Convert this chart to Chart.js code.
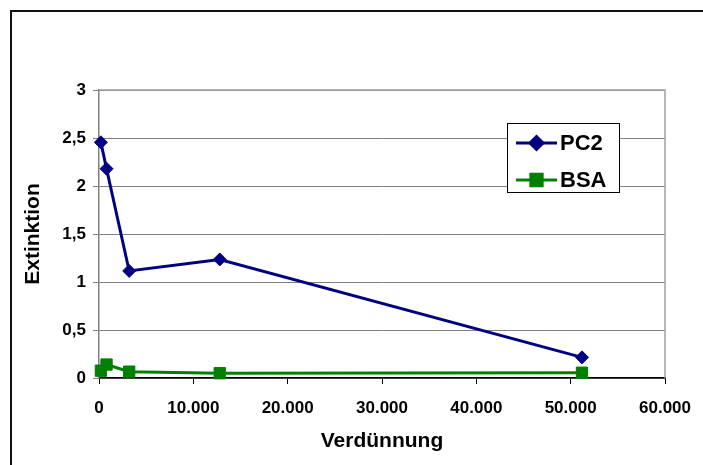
<!DOCTYPE html>
<html>
<head>
<meta charset="utf-8">
<script src="https://cdn.jsdelivr.net/npm/chart.js@4/dist/chart.umd.min.js"></script>
<style>
  html, body { margin: 0; padding: 0; background: #fff; }
  #wrap { width: 703px; height: 465px; position: relative; }
</style>
</head>
<body>
<div id="wrap"><canvas id="chart" width="703" height="465"></canvas></div>
<script>
// --- data ---
const dilution = [200, 800, 3200, 12800, 51200];
const pc2 = [2.455, 2.18, 1.115, 1.235, 0.215];
const bsa = [0.076, 0.14, 0.066, 0.05, 0.055];
const seriesNames = ['PC2', 'BSA'];
const xTicks = [0, 10000, 20000, 30000, 40000, 50000, 60000];
const yTicks = [0, 0.5, 1, 1.5, 2, 2.5, 3];

const FONT = '"Liberation Sans", Arial, sans-serif';
const navy = '#000080';
const green = '#008000';

function toPoints(xs, ys) {
  return xs.map((x, i) => ({ x: x, y: ys[i] }));
}

// german number format: 10.000 / 2,5
function fmtX(v) {
  return String(v).replace(/\B(?=(\d{3})+(?!\d))/g, '.');
}
function fmtY(v) {
  return String(v).replace('.', ',');
}

// frame, outer border and legend box
const decor = {
  id: 'decor',
  beforeDatasetsDraw(chart) {
    const { ctx, chartArea: a } = chart;
    ctx.save();
    ctx.strokeStyle = '#a0a0a0';
    ctx.lineWidth = 1.5;
    ctx.beginPath();
    ctx.moveTo(a.left, a.top);
    ctx.lineTo(a.right, a.top);
    ctx.lineTo(a.right, a.bottom);
    ctx.stroke();
    ctx.restore();
  },
  afterDraw(chart) {
    const { ctx } = chart;
    ctx.save();
    // outer chart border (runs off the picture right and bottom)
    ctx.strokeStyle = '#111';
    ctx.lineWidth = 2;
    ctx.beginPath();
    ctx.moveTo(11, 465);
    ctx.lineTo(11, 11);
    ctx.lineTo(703, 11);
    ctx.stroke();

    // legend
    const bx = 507.5, by = 123.5, bw = 112, bh = 69;
    ctx.fillStyle = '#fff';
    ctx.fillRect(bx, by, bw, bh);
    ctx.strokeStyle = '#000';
    ctx.lineWidth = 1;
    ctx.strokeRect(bx, by, bw, bh);

    const rows = [143, 180];
    chart.data.datasets.forEach((ds, i) => {
      const y = rows[i];
      ctx.strokeStyle = ds.borderColor;
      ctx.lineWidth = 3;
      ctx.beginPath();
      ctx.moveTo(516, y);
      ctx.lineTo(557, y);
      ctx.stroke();
      Chart.helpers.drawPoint(ctx, {
        pointStyle: ds.pointStyle,
        radius: ds.pointRadius,
        borderWidth: 1
      }, 536.5, y);
      ctx.fillStyle = ds.borderColor;
      ctx.fill();
      ctx.fillStyle = '#000';
      ctx.font = 'bold 22px ' + FONT;
      ctx.textBaseline = 'middle';
      ctx.textAlign = 'left';
      ctx.fillText(ds.label, 560, y + 1);
    });
    ctx.restore();
  }
};

new Chart(document.getElementById('chart'), {
  type: 'line',
  data: {
    datasets: [
      {
        label: seriesNames[0],
        data: toPoints(dilution, pc2),
        borderColor: navy,
        backgroundColor: navy,
        borderWidth: 3,
        pointStyle: 'rectRot',
        pointRadius: 6.5,
        pointBorderWidth: 1,
        tension: 0,
        clip: false
      },
      {
        label: seriesNames[1],
        data: toPoints(dilution, bsa),
        borderColor: green,
        backgroundColor: green,
        borderWidth: 3,
        pointStyle: 'rect',
        pointRadius: 8,
        pointBorderWidth: 1,
        tension: 0,
        clip: false
      }
    ]
  },
  options: {
    responsive: false,
    animation: false,
    devicePixelRatio: 1,
    layout: { padding: { left: 0, top: 90, right: 38, bottom: 0 } },
    plugins: {
      legend: { display: false },
      tooltip: { enabled: false }
    },
    scales: {
      x: {
        type: 'linear',
        min: xTicks[0],
        max: xTicks[xTicks.length - 1],
        afterBuildTicks(scale) {
          scale.ticks = xTicks.map(v => ({ value: v }));
        },
        afterFit(scale) {
          scale.height = 87;
          scale.paddingLeft = 0;
          scale.paddingRight = 0;
        },
        grid: {
          drawOnChartArea: false,
          drawTicks: true,
          tickLength: 6,
          tickColor: '#000',
          tickWidth: 1
        },
        border: { color: '#000', width: 1.5 },
        ticks: {
          callback: v => fmtX(v),
          color: '#000',
          padding: 14,
          maxRotation: 0,
          font: { family: FONT, size: 17, weight: 'bold' }
        },
        title: {
          display: true,
          text: 'Verdünnung',
          color: '#000',
          padding: { top: 0, bottom: 11 },
          font: { family: FONT, size: 21, weight: 'bold' }
        }
      },
      y: {
        min: yTicks[0],
        max: yTicks[yTicks.length - 1],
        afterBuildTicks(scale) {
          scale.ticks = yTicks.map(v => ({ value: v }));
        },
        afterFit(scale) { scale.width = 99; },
        grid: {
          color: '#808080',
          lineWidth: 1,
          drawTicks: true,
          tickLength: 6,
          tickColor: '#808080'
        },
        border: { color: '#808080', width: 1.5 },
        ticks: {
          callback: v => fmtY(v),
          color: '#000',
          padding: 7,
          font: { family: FONT, size: 17, weight: 'bold' }
        },
        title: {
          display: true,
          text: 'Extinktion',
          color: '#000',
          padding: { top: 21, bottom: 0 },
          font: { family: FONT, size: 21, weight: 'bold' }
        }
      }
    }
  },
  plugins: [decor]
});
</script>
</body>
</html>
